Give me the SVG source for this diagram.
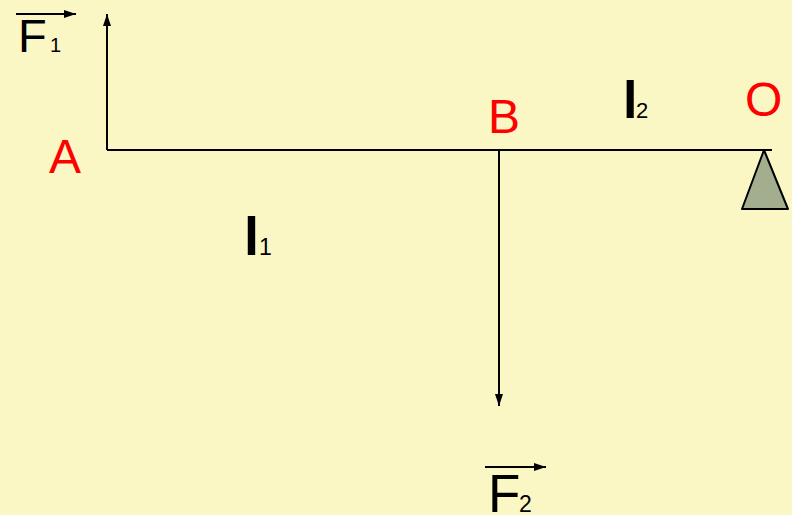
<svg xmlns="http://www.w3.org/2000/svg" width="792" height="515" viewBox="0 0 792 515">
<defs>
<marker id="ah" markerWidth="12" markerHeight="8" refX="12" refY="4" orient="auto" markerUnits="userSpaceOnUse">
<path d="M0,0 L12,4 L0,8 Z" fill="#000"/>
</marker>
<style>
.t{font-family:"Liberation Sans",Arial,sans-serif;fill:#000}
.r{font-family:"Liberation Sans",Arial,sans-serif;fill:#FF0000;font-size:48px}
.ln{stroke:#000;stroke-width:2;fill:none}
.vec{stroke:#000;stroke-width:2;fill:none}
</style>
</defs>
<rect width="792" height="515" fill="#FBF7C4"/>
<g id="connectors">
<line class="ln" x1="107" y1="150" x2="772" y2="150"/>
<line class="ln" x1="107" y1="150" x2="107" y2="14" marker-end="url(#ah)"/>
<line class="ln" x1="499" y1="150" x2="499" y2="406" marker-end="url(#ah)"/>
</g>
<g id="F1">
<line class="vec" x1="16" y1="14" x2="76" y2="14" marker-end="url(#ah)"/>
<text class="t" x="18" y="52" font-size="47">F</text>
<text class="t" x="50" y="52" font-size="20">1</text>
</g>
<g id="F2">
<line class="vec" x1="485" y1="467" x2="546" y2="467" marker-end="url(#ah)"/>
<text class="t" x="488" y="512" font-size="53">F</text>
<text class="t" x="519" y="512" font-size="23">2</text>
</g>
<g id="A"><text class="r" x="49" y="173">A</text></g>
<g id="B"><text class="r" x="488" y="133" font-size="52">B</text></g>
<g id="O">
<text class="r" x="745" y="116">O</text>
<polygon points="764,150 742,209 788,209" fill="#A3AE8E" stroke="#000" stroke-width="2" stroke-linejoin="round"/>
</g>
<g id="l1">
<text class="t" x="244" y="255" font-size="54" font-weight="bold">l</text>
<text class="t" x="259" y="255" font-size="23">1</text>
</g>
<g id="l2">
<text class="t" x="623" y="118" font-size="52" font-weight="bold">l</text>
<text class="t" x="636" y="118" font-size="22">2</text>
</g>
</svg>
